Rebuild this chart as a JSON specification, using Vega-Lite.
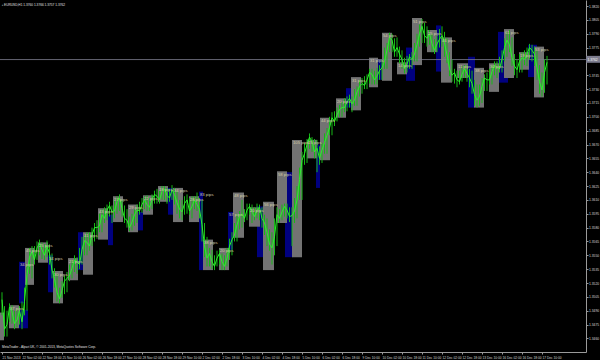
{
  "$schema": "https://vega.github.io/schema/vega-lite/v6.json",
  "width": 586,
  "height": 352,
  "padding": {"left": 0, "top": 0, "right": 14, "bottom": 8},
  "autosize": {"type": "none"},
  "background": "#000000",
  "config": {"view": {"stroke": null}},
  "datasets": {
    "bars": [
      {"i":0,"c":1.3502,"h":1.3510,"l":1.3485},{"i":4,"c":1.3475,"h":1.3490,"l":1.3462},{"i":8,"c":1.3489,"h":1.3496,"l":1.3476},{"i":12,"c":1.3480,"h":1.3492,"l":1.3472},
      {"i":16,"c":1.3478,"h":1.3500,"l":1.3470},{"i":20,"c":1.3529,"h":1.3540,"l":1.3490},{"i":24,"c":1.3554,"h":1.3560,"l":1.3525},{"i":28,"c":1.3558,"h":1.3565,"l":1.3545},
      {"i":32,"c":1.3556,"h":1.3564,"l":1.3546},{"i":36,"c":1.3560,"h":1.3566,"l":1.3548},{"i":40,"c":1.3534,"h":1.3552,"l":1.3525},{"i":44,"c":1.3510,"h":1.3530,"l":1.3500},
      {"i":48,"c":1.3512,"h":1.3522,"l":1.3504},{"i":52,"c":1.3525,"h":1.3532,"l":1.3510},{"i":56,"c":1.3536,"h":1.3545,"l":1.3525},{"i":60,"c":1.3543,"h":1.3548,"l":1.3530},
      {"i":64,"c":1.3556,"h":1.3570,"l":1.3540},{"i":68,"c":1.3564,"h":1.3575,"l":1.3550},{"i":72,"c":1.3572,"h":1.3580,"l":1.3560},{"i":76,"c":1.3580,"h":1.3588,"l":1.3568},
      {"i":80,"c":1.3594,"h":1.3600,"l":1.3575},{"i":84,"c":1.3599,"h":1.3605,"l":1.3588},{"i":88,"c":1.3597,"h":1.3604,"l":1.3585},{"i":92,"c":1.3608,"h":1.3614,"l":1.3595},
      {"i":96,"c":1.3601,"h":1.3610,"l":1.3592},{"i":100,"c":1.3588,"h":1.3600,"l":1.3580},{"i":104,"c":1.3586,"h":1.3595,"l":1.3577},{"i":108,"c":1.3599,"h":1.3605,"l":1.3585},
      {"i":112,"c":1.3605,"h":1.3612,"l":1.3596},{"i":116,"c":1.3605,"h":1.3615,"l":1.3598},{"i":120,"c":1.3610,"h":1.3616,"l":1.3600},{"i":124,"c":1.3614,"h":1.3622,"l":1.3606},
      {"i":128,"c":1.3619,"h":1.3625,"l":1.3610},{"i":132,"c":1.3615,"h":1.3623,"l":1.3606},{"i":136,"c":1.3621,"h":1.3626,"l":1.3610},{"i":140,"c":1.3607,"h":1.3620,"l":1.3595},
      {"i":144,"c":1.3597,"h":1.3610,"l":1.3588},{"i":148,"c":1.3610,"h":1.3616,"l":1.3595},{"i":152,"c":1.3603,"h":1.3614,"l":1.3590},{"i":156,"c":1.3605,"h":1.3618,"l":1.3598},
      {"i":160,"c":1.3583,"h":1.3610,"l":1.3565},{"i":164,"c":1.3547,"h":1.3570,"l":1.3538},{"i":168,"c":1.3543,"h":1.3556,"l":1.3535},{"i":172,"c":1.3547,"h":1.3555,"l":1.3538},
      {"i":176,"c":1.3543,"h":1.3552,"l":1.3534},{"i":180,"c":1.3547,"h":1.3558,"l":1.3538},{"i":184,"c":1.3567,"h":1.3575,"l":1.3550},{"i":188,"c":1.3583,"h":1.3595,"l":1.3565},
      {"i":192,"c":1.3595,"h":1.3610,"l":1.3580},{"i":196,"c":1.3599,"h":1.3606,"l":1.3588},{"i":200,"c":1.3597,"h":1.3605,"l":1.3585},{"i":204,"c":1.3599,"h":1.3606,"l":1.3590},
      {"i":208,"c":1.3590,"h":1.3602,"l":1.3580},{"i":212,"c":1.3575,"h":1.3590,"l":1.3560},{"i":216,"c":1.3558,"h":1.3575,"l":1.3540},{"i":220,"c":1.3594,"h":1.3602,"l":1.3560},
      {"i":224,"c":1.3597,"h":1.3605,"l":1.3588},{"i":228,"c":1.3599,"h":1.3606,"l":1.3590},{"i":232,"c":1.3593,"h":1.3602,"l":1.3560},{"i":236,"c":1.3610,"h":1.3625,"l":1.3590},
      {"i":240,"c":1.3653,"h":1.3662,"l":1.3610},{"i":244,"c":1.3670,"h":1.3676,"l":1.3650},{"i":248,"c":1.3673,"h":1.3678,"l":1.3662},{"i":252,"c":1.3666,"h":1.3675,"l":1.3640},
      {"i":256,"c":1.3664,"h":1.3672,"l":1.3650},{"i":260,"c":1.3680,"h":1.3688,"l":1.3660},{"i":264,"c":1.3699,"h":1.3705,"l":1.3680},{"i":268,"c":1.3702,"h":1.3710,"l":1.3695},
      {"i":272,"c":1.3710,"h":1.3716,"l":1.3700},{"i":276,"c":1.3716,"h":1.3722,"l":1.3706},{"i":280,"c":1.3714,"h":1.3722,"l":1.3705},{"i":284,"c":1.3727,"h":1.3733,"l":1.3712},
      {"i":288,"c":1.3736,"h":1.3742,"l":1.3725},{"i":292,"c":1.3740,"h":1.3746,"l":1.3730},{"i":296,"c":1.3746,"h":1.3752,"l":1.3735},{"i":300,"c":1.3744,"h":1.3753,"l":1.3735},
      {"i":304,"c":1.3753,"h":1.3762,"l":1.3740},{"i":308,"c":1.3772,"h":1.3780,"l":1.3752},{"i":312,"c":1.3783,"h":1.3790,"l":1.3770},{"i":316,"c":1.3775,"h":1.3786,"l":1.3765},
      {"i":320,"c":1.3762,"h":1.3772,"l":1.3752},{"i":324,"c":1.3757,"h":1.3766,"l":1.3748},{"i":328,"c":1.3762,"h":1.3770,"l":1.3752},{"i":332,"c":1.3778,"h":1.3790,"l":1.3760},
      {"i":336,"c":1.3798,"h":1.3806,"l":1.3780},{"i":340,"c":1.3785,"h":1.3798,"l":1.3776},{"i":344,"c":1.3779,"h":1.3790,"l":1.3770},{"i":348,"c":1.3779,"h":1.3788,"l":1.3770},
      {"i":352,"c":1.3788,"h":1.3798,"l":1.3776},{"i":356,"c":1.3767,"h":1.3785,"l":1.3758},{"i":360,"c":1.3745,"h":1.3762,"l":1.3738},{"i":364,"c":1.3740,"h":1.3750,"l":1.3732},
      {"i":368,"c":1.3746,"h":1.3755,"l":1.3738},{"i":372,"c":1.3747,"h":1.3756,"l":1.3738},{"i":376,"c":1.3736,"h":1.3750,"l":1.3725},{"i":380,"c":1.3718,"h":1.3735,"l":1.3710},
      {"i":384,"c":1.3733,"h":1.3742,"l":1.3715},{"i":388,"c":1.3740,"h":1.3748,"l":1.3728},{"i":392,"c":1.3749,"h":1.3756,"l":1.3735},{"i":396,"c":1.3753,"h":1.3760,"l":1.3742},
      {"i":400,"c":1.3762,"h":1.3772,"l":1.3748},{"i":404,"c":1.3783,"h":1.3792,"l":1.3765},{"i":408,"c":1.3764,"h":1.3786,"l":1.3755},{"i":412,"c":1.3751,"h":1.3762,"l":1.3742},
      {"i":416,"c":1.3764,"h":1.3770,"l":1.3748},{"i":420,"c":1.3768,"h":1.3775,"l":1.3755},{"i":424,"c":1.3772,"h":1.3778,"l":1.3760},{"i":428,"c":1.3753,"h":1.3772,"l":1.3740},
      {"i":432,"c":1.3729,"h":1.3748,"l":1.3722},{"i":436,"c":1.3759,"h":1.3766,"l":1.3735},
      {"i":2,"c":1.3470,"h":1.3495,"l":1.3462},{"i":6,"c":1.3494,"h":1.3498,"l":1.3478},{"i":10,"c":1.3476,"h":1.3490,"l":1.3470},{"i":14,"c":1.3490,"h":1.3495,"l":1.3475},
      {"i":18,"c":1.3500,"h":1.3515,"l":1.3485},{"i":22,"c":1.3548,"h":1.3558,"l":1.3530},{"i":26,"c":1.3545,"h":1.3560,"l":1.3540},{"i":30,"c":1.3563,"h":1.3567,"l":1.3550},
      {"i":34,"c":1.3550,"h":1.3562,"l":1.3545},{"i":38,"c":1.3552,"h":1.3562,"l":1.3540},{"i":42,"c":1.3525,"h":1.3536,"l":1.3515},{"i":46,"c":1.3503,"h":1.3515,"l":1.3498},
      {"i":50,"c":1.3522,"h":1.3528,"l":1.3508},{"i":54,"c":1.3528,"h":1.3540,"l":1.3522},{"i":58,"c":1.3545,"h":1.3550,"l":1.3532},{"i":62,"c":1.3540,"h":1.3558,"l":1.3535},
      {"i":66,"c":1.3566,"h":1.3572,"l":1.3550},{"i":70,"c":1.3560,"h":1.3575,"l":1.3555},{"i":74,"c":1.3580,"h":1.3585,"l":1.3565},{"i":78,"c":1.3582,"h":1.3595,"l":1.3575},
      {"i":82,"c":1.3590,"h":1.3602,"l":1.3585},{"i":86,"c":1.3604,"h":1.3608,"l":1.3592},{"i":90,"c":1.3598,"h":1.3610,"l":1.3590},{"i":94,"c":1.3612,"h":1.3616,"l":1.3598},
      {"i":98,"c":1.3590,"h":1.3604,"l":1.3585},{"i":102,"c":1.3580,"h":1.3592,"l":1.3576},{"i":106,"c":1.3594,"h":1.3600,"l":1.3582},{"i":110,"c":1.3598,"h":1.3608,"l":1.3594},
      {"i":114,"c":1.3610,"h":1.3614,"l":1.3600},{"i":118,"c":1.3602,"h":1.3612,"l":1.3598},{"i":122,"c":1.3616,"h":1.3620,"l":1.3606},{"i":126,"c":1.3610,"h":1.3620,"l":1.3606},
      {"i":130,"c":1.3622,"h":1.3625,"l":1.3610},{"i":134,"c":1.3612,"h":1.3622,"l":1.3608},{"i":138,"c":1.3616,"h":1.3623,"l":1.3605},{"i":142,"c":1.3600,"h":1.3610,"l":1.3590},
      {"i":146,"c":1.3606,"h":1.3614,"l":1.3594},{"i":150,"c":1.3598,"h":1.3612,"l":1.3594},{"i":154,"c":1.3610,"h":1.3614,"l":1.3600},{"i":158,"c":1.3600,"h":1.3612,"l":1.3590},
      {"i":162,"c":1.3560,"h":1.3585,"l":1.3548},{"i":166,"c":1.3552,"h":1.3558,"l":1.3538},{"i":170,"c":1.3538,"h":1.3550,"l":1.3534},{"i":174,"c":1.3552,"h":1.3556,"l":1.3540},
      {"i":178,"c":1.3538,"h":1.3550,"l":1.3534},{"i":182,"c":1.3560,"h":1.3568,"l":1.3545},{"i":186,"c":1.3572,"h":1.3585,"l":1.3565},{"i":190,"c":1.3592,"h":1.3598,"l":1.3578},
      {"i":194,"c":1.3590,"h":1.3600,"l":1.3586},{"i":198,"c":1.3603,"h":1.3606,"l":1.3594},{"i":202,"c":1.3592,"h":1.3602,"l":1.3588},{"i":206,"c":1.3602,"h":1.3605,"l":1.3588},
      {"i":210,"c":1.3585,"h":1.3594,"l":1.3572},{"i":214,"c":1.3562,"h":1.3578,"l":1.3555},{"i":218,"c":1.3570,"h":1.3590,"l":1.3550},{"i":222,"c":1.3590,"h":1.3600,"l":1.3585},
      {"i":226,"c":1.3603,"h":1.3606,"l":1.3592},{"i":230,"c":1.3592,"h":1.3602,"l":1.3586},{"i":234,"c":1.3598,"h":1.3612,"l":1.3585},{"i":238,"c":1.3632,"h":1.3645,"l":1.3610},
      {"i":242,"c":1.3660,"h":1.3672,"l":1.3648},{"i":246,"c":1.3678,"h":1.3682,"l":1.3665},{"i":250,"c":1.3662,"h":1.3676,"l":1.3655},{"i":254,"c":1.3655,"h":1.3668,"l":1.3648},
      {"i":258,"c":1.3672,"h":1.3682,"l":1.3660},{"i":262,"c":1.3688,"h":1.3700,"l":1.3680},{"i":266,"c":1.3695,"h":1.3706,"l":1.3690},{"i":270,"c":1.3708,"h":1.3713,"l":1.3700},
      {"i":274,"c":1.3710,"h":1.3720,"l":1.3705},{"i":278,"c":1.3720,"h":1.3724,"l":1.3710},{"i":282,"c":1.3718,"h":1.3730,"l":1.3712},{"i":286,"c":1.3733,"h":1.3740,"l":1.3722},
      {"i":290,"c":1.3734,"h":1.3744,"l":1.3730},{"i":294,"c":1.3748,"h":1.3752,"l":1.3736},{"i":298,"c":1.3740,"h":1.3750,"l":1.3735},{"i":302,"c":1.3750,"h":1.3756,"l":1.3740},
      {"i":306,"c":1.3760,"h":1.3775,"l":1.3752},{"i":310,"c":1.3786,"h":1.3791,"l":1.3770},{"i":314,"c":1.3770,"h":1.3785,"l":1.3765},{"i":318,"c":1.3768,"h":1.3776,"l":1.3758},
      {"i":322,"c":1.3752,"h":1.3764,"l":1.3747},{"i":326,"c":1.3765,"h":1.3768,"l":1.3752},{"i":330,"c":1.3768,"h":1.3780,"l":1.3760},{"i":334,"c":1.3790,"h":1.3800,"l":1.3776},
      {"i":338,"c":1.3788,"h":1.3802,"l":1.3780},{"i":342,"c":1.3790,"h":1.3794,"l":1.3778},{"i":346,"c":1.3772,"h":1.3784,"l":1.3768},{"i":350,"c":1.3784,"h":1.3795,"l":1.3775},
      {"i":354,"c":1.3780,"h":1.3792,"l":1.3765},{"i":358,"c":1.3752,"h":1.3770,"l":1.3744},{"i":362,"c":1.3748,"h":1.3752,"l":1.3736},{"i":366,"c":1.3738,"h":1.3750,"l":1.3735},
      {"i":370,"c":1.3752,"h":1.3756,"l":1.3742},{"i":374,"c":1.3742,"h":1.3752,"l":1.3732},{"i":378,"c":1.3724,"h":1.3740,"l":1.3712},{"i":382,"c":1.3722,"h":1.3735,"l":1.3712},
      {"i":386,"c":1.3742,"h":1.3746,"l":1.3728},{"i":390,"c":1.3740,"h":1.3752,"l":1.3735},{"i":394,"c":1.3756,"h":1.3760,"l":1.3745},{"i":398,"c":1.3752,"h":1.3765,"l":1.3748},
      {"i":402,"c":1.3775,"h":1.3785,"l":1.3760},{"i":406,"c":1.3778,"h":1.3794,"l":1.3770},{"i":410,"c":1.3755,"h":1.3768,"l":1.3745},{"i":414,"c":1.3760,"h":1.3768,"l":1.3748},
      {"i":418,"c":1.3762,"h":1.3772,"l":1.3756},{"i":422,"c":1.3775,"h":1.3779,"l":1.3762},{"i":426,"c":1.3768,"h":1.3776,"l":1.3755},{"i":430,"c":1.3738,"h":1.3756,"l":1.3725},
      {"i":434,"c":1.3748,"h":1.3762,"l":1.3726}
    ],
    "boxes": [
      {"a":-1.6,"b":1.6,"top":1.3488,"bot":1.3458,"kind":"g","label":""},
      {"a":13.6,"b":20.8,"top":1.3491,"bot":1.3471,"kind":"n","label":""},
      {"a":5.6,"b":13.6,"top":1.3496,"bot":1.3471,"kind":"g","label":"37 pips"},
      {"a":13.6,"b":18.4,"top":1.3543,"bot":1.3498,"kind":"n","label":"34 pips"},
      {"a":18.4,"b":25.6,"top":1.3558,"bot":1.3518,"kind":"g","label":"45 pips"},
      {"a":28.8,"b":36.8,"top":1.3564,"bot":1.3542,"kind":"g","label":"25 pips"},
      {"a":36.8,"b":40.8,"top":1.3550,"bot":1.3510,"kind":"n","label":"34 pips"},
      {"a":40.8,"b":48.8,"top":1.3533,"bot":1.3498,"kind":"g","label":"30 pips"},
      {"a":52.8,"b":60.8,"top":1.3547,"bot":1.3523,"kind":"g","label":"21 pips"},
      {"a":60.8,"b":64.8,"top":1.3575,"bot":1.3534,"kind":"n","label":""},
      {"a":64.8,"b":72.8,"top":1.3575,"bot":1.3529,"kind":"g","label":"41 pips"},
      {"a":76.8,"b":84.8,"top":1.3601,"bot":1.3567,"kind":"g","label":"43 pips"},
      {"a":84.8,"b":88.8,"top":1.3594,"bot":1.3561,"kind":"n","label":""},
      {"a":88.8,"b":96.8,"top":1.3614,"bot":1.3586,"kind":"g","label":"27 pips"},
      {"a":100.8,"b":108.8,"top":1.3605,"bot":1.3575,"kind":"g","label":"29 pips"},
      {"a":108.8,"b":112.8,"top":1.3597,"bot":1.3577,"kind":"n","label":""},
      {"a":112.8,"b":120.8,"top":1.3615,"bot":1.3594,"kind":"g","label":"22 pips"},
      {"a":124.8,"b":132.8,"top":1.3625,"bot":1.3608,"kind":"g","label":"18 pips"},
      {"a":132.8,"b":136.8,"top":1.3623,"bot":1.3594,"kind":"n","label":""},
      {"a":136.8,"b":144.8,"top":1.3623,"bot":1.3586,"kind":"g","label":"34 pips"},
      {"a":149.6,"b":157.6,"top":1.3614,"bot":1.3586,"kind":"g","label":"28 pips"},
      {"a":157.6,"b":160.8,"top":1.3619,"bot":1.3534,"kind":"n","label":"83 pips"},
      {"a":160.8,"b":168.8,"top":1.3567,"bot":1.3534,"kind":"g","label":"38 pips"},
      {"a":173.6,"b":181.6,"top":1.3558,"bot":1.3534,"kind":"g","label":"20 pips"},
      {"a":180.8,"b":184.8,"top":1.3597,"bot":1.3556,"kind":"n","label":"57 pips"},
      {"a":184.8,"b":193.6,"top":1.3618,"bot":1.3569,"kind":"g","label":"48 pips"},
      {"a":197.6,"b":206.4,"top":1.3602,"bot":1.3581,"kind":"g","label":"20 pips"},
      {"a":204,"b":208.8,"top":1.3603,"bot":1.3548,"kind":"n","label":""},
      {"a":208.8,"b":217.6,"top":1.3608,"bot":1.3534,"kind":"g","label":"56 pips"},
      {"a":220,"b":228,"top":1.3641,"bot":1.3585,"kind":"g","label":"58 pips"},
      {"a":226.4,"b":232.8,"top":1.3640,"bot":1.3548,"kind":"n","label":""},
      {"a":232,"b":240,"top":1.3675,"bot":1.3548,"kind":"g","label":"105 pips"},
      {"a":244,"b":252,"top":1.3675,"bot":1.3655,"kind":"g","label":"15 pips"},
      {"a":251.2,"b":254.4,"top":1.3670,"bot":1.3623,"kind":"n","label":""},
      {"a":254.4,"b":262.4,"top":1.3699,"bot":1.3653,"kind":"g","label":"44 pips"},
      {"a":267.2,"b":275.2,"top":1.3720,"bot":1.3699,"kind":"g","label":"20 pips"},
      {"a":275.2,"b":279.2,"top":1.3731,"bot":1.3710,"kind":"n","label":""},
      {"a":279.2,"b":287.2,"top":1.3743,"bot":1.3707,"kind":"g","label":"31 pips"},
      {"a":293.6,"b":300.8,"top":1.3764,"bot":1.3732,"kind":"g","label":"31 pips"},
      {"a":300.8,"b":304.8,"top":1.3762,"bot":1.3740,"kind":"n","label":""},
      {"a":304,"b":312,"top":1.3791,"bot":1.3739,"kind":"g","label":"54 pips"},
      {"a":316,"b":324,"top":1.3759,"bot":1.3746,"kind":"g","label":"14 pips"},
      {"a":323.2,"b":330.4,"top":1.3775,"bot":1.3739,"kind":"n","label":""},
      {"a":328,"b":336,"top":1.3807,"bot":1.3756,"kind":"g","label":"51 pips"},
      {"a":340,"b":348,"top":1.3794,"bot":1.3770,"kind":"g","label":"25 pips"},
      {"a":347.2,"b":351.2,"top":1.3799,"bot":1.3749,"kind":"n","label":""},
      {"a":351.2,"b":360,"top":1.3786,"bot":1.3737,"kind":"g","label":"46 pips"},
      {"a":364,"b":372.8,"top":1.3758,"bot":1.3742,"kind":"g","label":"11 pips"},
      {"a":372.8,"b":378.4,"top":1.3765,"bot":1.3710,"kind":"n","label":""},
      {"a":377.6,"b":385.6,"top":1.3753,"bot":1.3710,"kind":"g","label":"38 pips"},
      {"a":389.6,"b":397.6,"top":1.3758,"bot":1.3727,"kind":"g","label":"30 pips"},
      {"a":396.8,"b":404.8,"top":1.3792,"bot":1.3737,"kind":"n","label":""},
      {"a":401.6,"b":409.6,"top":1.3795,"bot":1.3742,"kind":"g","label":"61 pips"},
      {"a":413.6,"b":421.6,"top":1.3770,"bot":1.3751,"kind":"g","label":"19 pips"},
      {"a":420.8,"b":428,"top":1.3778,"bot":1.3743,"kind":"n","label":""},
      {"a":425.6,"b":433.6,"top":1.3776,"bot":1.3721,"kind":"g","label":"53 pips"}
    ],
    "notes": [
      {"x":-1.6,"y":1.3821,"t":"▪ EURUSD,H1  1.3760 1.3766 1.3757 1.3762"},
      {"x":-1.6,"y":1.3451,"t":"MetaTrader - Alpari UK, © 2001-2013, MetaQuotes Software Corp."}
    ],
    "price": [{"p":1.3762,"x1":467.2,"x2":478.4,"top":1.3766,"bot":1.37585,"t":"1.3762"}]
  },
  "resolve": {"axis": {"x": "independent", "y": "independent"}},
  "layer": [
    {
      "data": {"name": "boxes"},
      "transform": [{"filter": "datum.kind === 'n'"}],
      "mark": {"type": "rect", "color": "#000080"},
      "encoding": {
        "x": {"field": "a", "type": "quantitative", "axis": null, "scale": {"domain": [-1.6, 467.2], "nice": false, "zero": false}}, "x2": {"field": "b"},
        "y": {"field": "top", "type": "quantitative", "axis": null, "scale": {"domain": [1.34453, 1.38265], "nice": false, "zero": false}}, "y2": {"field": "bot"}
      }
    },
    {
      "data": {"name": "boxes"},
      "transform": [{"filter": "datum.kind === 'g'"}],
      "mark": {"type": "rect", "color": "#737373"},
      "encoding": {
        "x": {"field": "a", "type": "quantitative", "axis": null}, "x2": {"field": "b"},
        "y": {"field": "top", "type": "quantitative", "axis": null}, "y2": {"field": "bot"}
      }
    },
    {
      "data": {"name": "price"},
      "mark": {"type": "rule", "color": "#7c7c8e", "strokeWidth": 0.8},
      "encoding": {"y": {"field": "p", "type": "quantitative", "axis": null}}
    },
    {
      "data": {"name": "bars"},
      "mark": {"type": "rule", "color": "#16b816", "strokeWidth": 1},
      "encoding": {
        "x": {"field": "i", "type": "quantitative", "axis": null},
        "y": {"field": "l", "type": "quantitative", "axis": null}, "y2": {"field": "h"}
      }
    },
    {
      "data": {"name": "bars"},
      "mark": {"type": "line", "color": "#2cf02c", "strokeWidth": 1},
      "encoding": {
        "x": {"field": "i", "type": "quantitative",
          "axis": {"orient": "bottom", "values": [0,16,32,48,64,80,96,112,128,144,160,176,192,208,224,240,256,272,288,304,320,336,352,368,384,400,416,432],
            "labelExpr": "['21 Nov 2013','22 Nov 02:00','22 Nov 18:00','25 Nov 10:00','26 Nov 02:00','26 Nov 18:00','27 Nov 10:00','28 Nov 02:00','28 Nov 18:00','29 Nov 10:00','2 Dec 02:00','2 Dec 18:00','3 Dec 10:00','4 Dec 02:00','4 Dec 18:00','5 Dec 10:00','6 Dec 02:00','6 Dec 18:00','9 Dec 10:00','10 Dec 02:00','10 Dec 18:00','11 Dec 10:00','12 Dec 02:00','12 Dec 18:00','13 Dec 10:00','16 Dec 02:00','16 Dec 18:00','17 Dec 10:00'][round(datum.value/16)]",
            "labelAlign": "left", "labelBaseline": "top", "labelPadding": 1, "labelFontSize": 3.2, "labelFont": "Liberation Sans", "labelColor": "#d8d8d8",
            "labelOverlap": false, "labelFlush": false, "labelBound": false, "tickSize": 2, "tickColor": "#9a9a9a", "domainColor": "#9a9a9a", "grid": false, "title": null}},
        "y": {"field": "c", "type": "quantitative",
          "axis": {"orient": "right", "values": [1.3445,1.346,1.3475,1.349,1.3505,1.352,1.3535,1.355,1.3565,1.358,1.3595,1.361,1.3625,1.364,1.3655,1.367,1.3685,1.37,1.3715,1.373,1.3745,1.3775,1.379,1.3805,1.382],
            "format": ".4f", "labelAlign": "left", "labelBaseline": "middle", "labelPadding": 0.5, "labelFontSize": 3.3, "labelFont": "Liberation Sans", "labelColor": "#d8d8d8",
            "labelOverlap": false, "labelFlush": false, "labelBound": false, "tickSize": 2, "tickColor": "#9a9a9a", "domainColor": "#9a9a9a", "grid": false, "title": null}}
      }
    },
    {
      "data": {"name": "boxes"},
      "mark": {"type": "text", "align": "left", "baseline": "top", "dx": 1, "dy": 1.5, "fontSize": 4.2, "font": "Liberation Sans", "color": "#d6cca8"},
      "encoding": {
        "x": {"field": "a", "type": "quantitative", "axis": null},
        "y": {"field": "top", "type": "quantitative", "axis": null},
        "text": {"field": "label"}
      }
    },
    {
      "data": {"name": "notes"},
      "mark": {"type": "text", "align": "left", "baseline": "middle", "dx": 2, "fontSize": 3.2, "font": "Liberation Sans", "color": "#e0e0e0"},
      "encoding": {
        "x": {"field": "x", "type": "quantitative", "axis": null},
        "y": {"field": "y", "type": "quantitative", "axis": null},
        "text": {"field": "t"}
      }
    },
    {
      "data": {"name": "price"},
      "mark": {"type": "rect", "color": "#7c7c8e"},
      "encoding": {
        "x": {"field": "x1", "type": "quantitative", "axis": null}, "x2": {"field": "x2"},
        "y": {"field": "top", "type": "quantitative", "axis": null}, "y2": {"field": "bot"}
      }
    },
    {
      "data": {"name": "price"},
      "mark": {"type": "text", "align": "left", "baseline": "middle", "dx": 1.5, "fontSize": 3.3, "font": "Liberation Sans", "color": "#ffffff"},
      "encoding": {
        "x": {"field": "x1", "type": "quantitative", "axis": null},
        "y": {"field": "p", "type": "quantitative", "axis": null},
        "text": {"field": "t"}
      }
    }
  ]
}
